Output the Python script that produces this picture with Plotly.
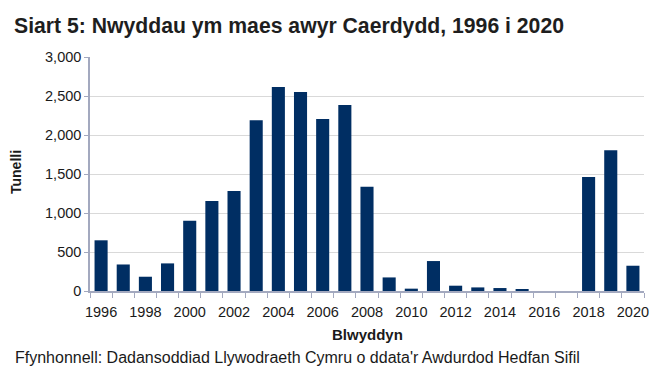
import plotly.graph_objects as go

years = list(range(1996, 2021))
tonnes = [650, 340, 183, 354, 900, 1155, 1282, 2190, 2615, 2551, 2205, 2384,
          1335, 174, 30, 384, 68, 46, 38, 20, 0, 0, 1460, 1805, 324]
x_tick_vals = list(range(1996, 2021, 2))
x_tick_text = [str(y) for y in x_tick_vals]
y_tick_vals = [0, 500, 1000, 1500, 2000, 2500, 3000]
y_tick_text = ["0", "500", "1,000", "1,500", "2,000", "2,500", "3,000"]

font = "Liberation Sans, Arial, sans-serif"
txt = "#1a1a1a"
axis_col = "#A3A9BF"

fig = go.Figure(go.Bar(x=years, y=tonnes, marker_color="#002E63",
                       marker_line_width=0, width=0.59))

fig.update_layout(
    width=667, height=384,
    margin=dict(l=82, r=31, t=49, b=101),
    plot_bgcolor="white", paper_bgcolor="white",
    showlegend=False,
    font=dict(family=font, size=14, color=txt),
    title=dict(text="<b>Siart 5: Nwyddau ym maes awyr Caerdydd, 1996 i 2020</b>",
               x=0.009, xanchor="left", y=0.953, yanchor="middle",
               font=dict(size=21.2, color="#1e1e1e", family=font)),
    annotations=[
        dict(text="Ffynhonnell: Dadansoddiad Llywodraeth Cymru o ddata'r Awdurdod Hedfan Sifil",
             xref="paper", yref="paper", x=-0.139, y=-0.286,
             xanchor="left", yanchor="middle", showarrow=False,
             font=dict(size=16, color=txt, family=font)),
        dict(text="<b>Blwyddyn</b>", xref="paper", yref="paper", x=0.5, y=-0.184,
             xanchor="center", yanchor="middle", showarrow=False,
             font=dict(size=15, color=txt, family=font)),
        dict(text="<b>Tunelli</b>", xref="paper", yref="paper", x=-0.1336, y=0.5085,
             xanchor="center", yanchor="middle", showarrow=False, textangle=-90,
             font=dict(size=14, color=txt, family=font)),
    ],
)

fig.update_xaxes(
    range=[1995.5, 2020.5], tickmode="array", tickvals=x_tick_vals, ticktext=x_tick_text,
    ticks="", showgrid=False, showline=True, linecolor=axis_col, linewidth=1.5,
    tickfont=dict(size=14.5, color=txt), ticklabelstandoff=7, automargin=False,
    minor=dict(ticks="outside", tick0=1995.5, dtick=1, ticklen=5, tickcolor=axis_col, showgrid=False),
)
fig.update_yaxes(
    range=[0, 3000], tickmode="array", tickvals=y_tick_vals, ticktext=y_tick_text,
    ticks="outside", ticklen=4, tickcolor=axis_col,
    showgrid=True, gridcolor="#D9D9D9", gridwidth=1,
    showline=True, linecolor=axis_col, linewidth=1.5, zeroline=False,
    tickfont=dict(size=14.5, color=txt), automargin=False,
)

fig.write_html("out.html")
